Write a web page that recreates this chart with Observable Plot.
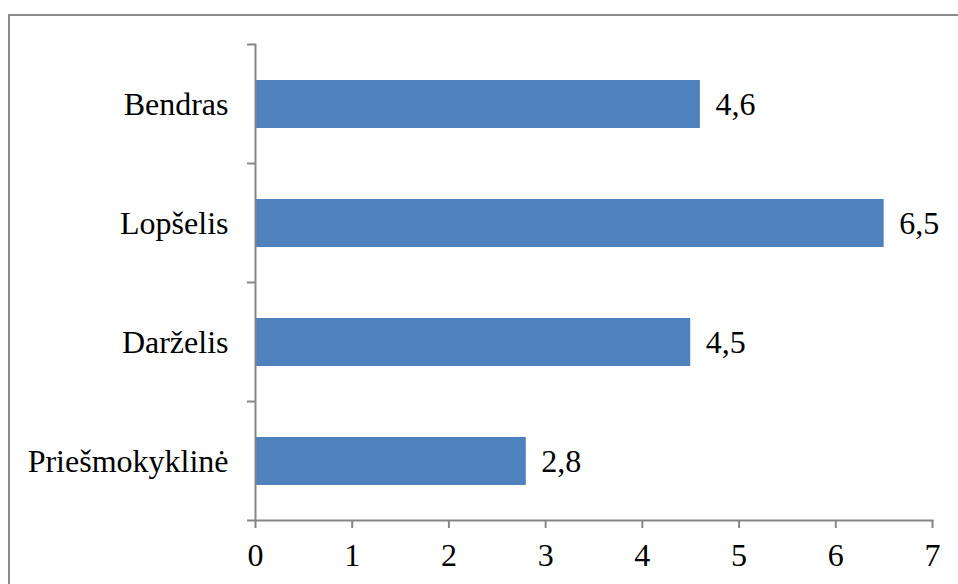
<!DOCTYPE html>
<html>
<head>
<meta charset="utf-8">
<script src="https://cdn.jsdelivr.net/npm/d3@7"></script>
<script src="https://cdn.jsdelivr.net/npm/@observablehq/plot@0.6"></script>
<style>
  html, body { margin: 0; padding: 0; background: #fff; overflow: hidden; width: 958px; height: 584px; }
  #chart { position: absolute; left: 8px; top: 14px; border-left: 2px solid #8a8a8a; border-top: 2px solid #8a8a8a; width: 960px; height: 580px; }
</style>
</head>
<body>
<div id="chart"></div>
<script>
const categories = ["Bendras", "Lopšelis", "Darželis", "Priešmokyklinė"];
const values = [4.6, 6.5, 4.5, 2.8];
const xTicks = [0, 1, 2, 3, 4, 5, 6, 7];

const data = categories.map((c, i) => ({cat: c, value: values[i]}));
const fmt = v => String(v).replace(".", ",");
const axisColor = "#868686";
const serifFont = "'Liberation Serif', Tinos, 'Times New Roman', serif";

const plot = Plot.plot({
  width: 948,
  height: 568,
  marginLeft: 245,
  marginRight: 26,
  marginTop: 28,
  marginBottom: 64,
  style: {fontFamily: serifFont, fontSize: "32px", color: "black", background: "white", overflow: "visible"},
  x: {domain: [0, 7]},
  y: {domain: categories, paddingInner: 0.6, paddingOuter: 0.3},
  marks: [
    Plot.barX(data, {x: "value", y: "cat", fill: "#4F81BD"}),
    Plot.text(data, {x: "value", y: "cat", text: d => fmt(d.value), textAnchor: "start", dx: 15, fill: "black", fontSize: 32}),
    Plot.frame({anchor: "left", stroke: axisColor, strokeWidth: 2, strokeOpacity: 1}),
    Plot.frame({anchor: "bottom", stroke: axisColor, strokeWidth: 2, strokeOpacity: 1}),
    Plot.axisY({tickSize: 0, tickPadding: 27, label: null, fontSize: 32, fill: "black"}),
    Plot.axisX({ticks: xTicks, tickSize: 8, tickPadding: 15, stroke: axisColor, strokeWidth: 2, strokeOpacity: 1, label: null, fontSize: 32, fill: "black", tickFormat: d => fmt(d)})
  ]
});

document.getElementById("chart").appendChild(plot);
d3.select(plot).selectAll("text").style("font-family", serifFont);

// band-boundary tick marks on the category axis
const ys = plot.scale("y");
const xs = plot.scale("x");
const x0 = xs.apply(0);
const centers = categories.map(c => ys.apply(c) + ys.bandwidth / 2);
const bounds = centers.map(c => c - ys.step / 2).concat([centers[centers.length - 1] + ys.step / 2]);
d3.select(plot).append("g")
  .selectAll("line")
  .data(bounds)
  .join("line")
  .attr("x1", x0 - 8).attr("x2", x0)
  .attr("y1", d => d).attr("y2", d => d)
  .attr("stroke", axisColor).attr("stroke-width", 2);
</script>
</body>
</html>
